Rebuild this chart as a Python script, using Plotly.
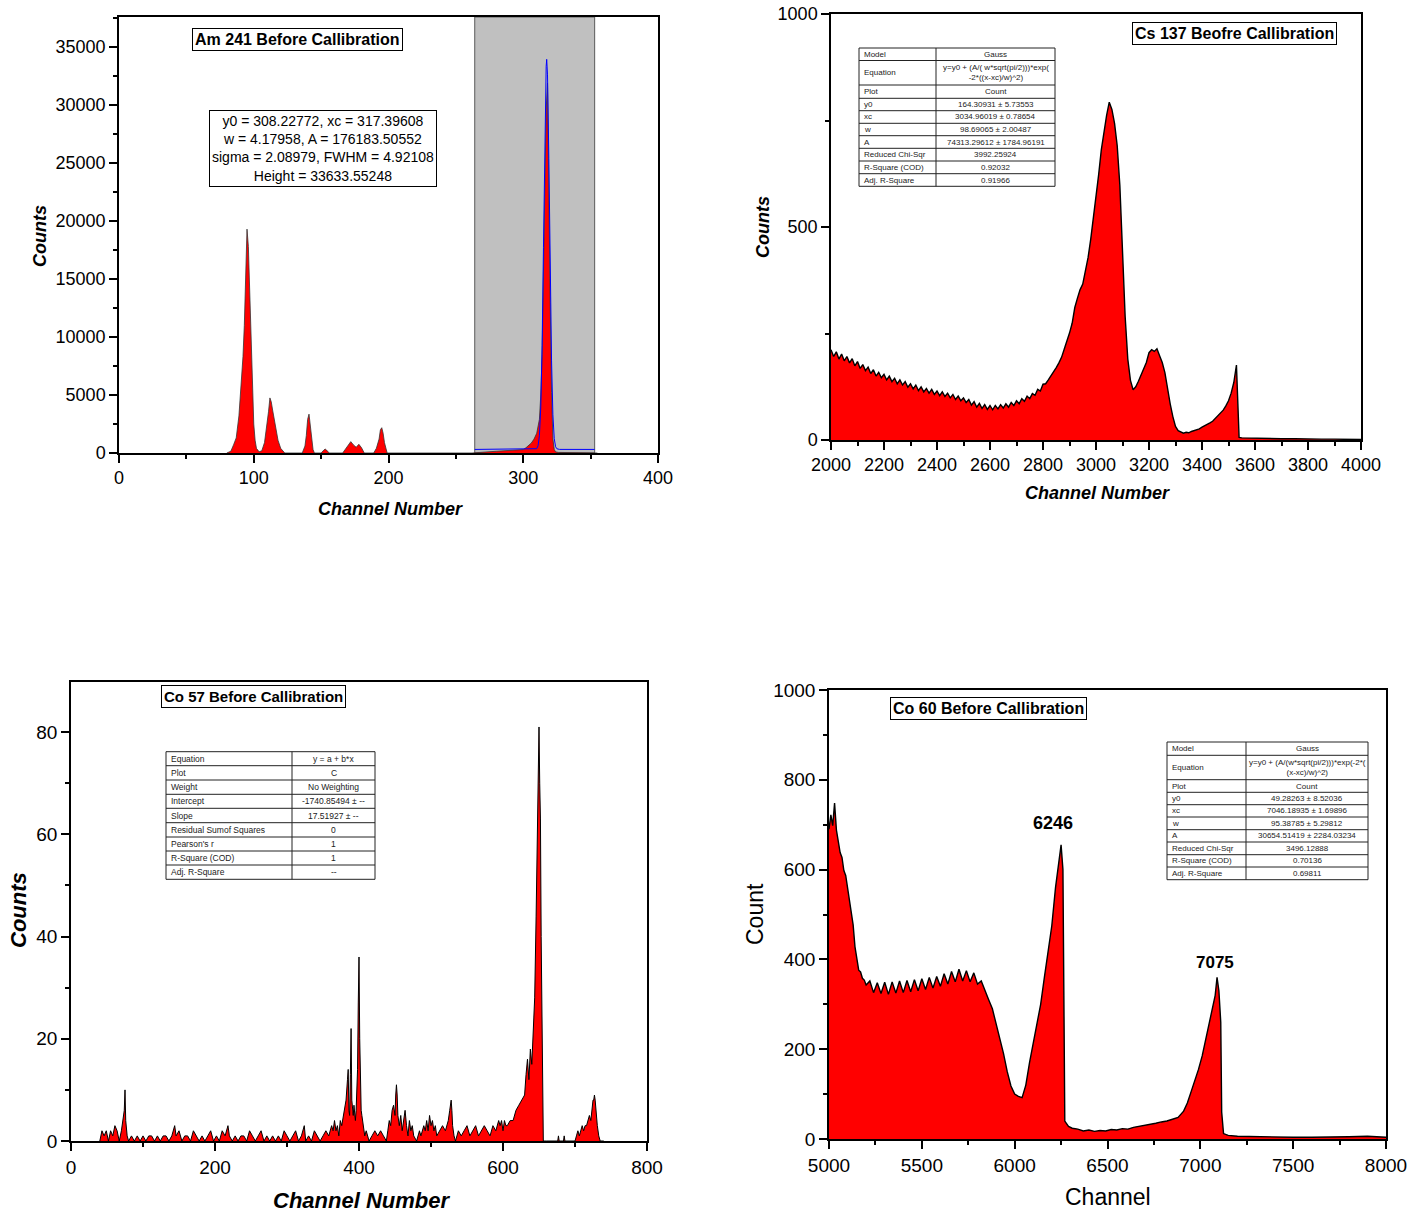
import plotly.graph_objects as go

# ---------------- DATA ----------------
# Am 241 spectrum (channel, counts)
am_ch = [80, 83, 85, 87, 89, 91, 92, 93, 94, 95, 96, 97, 98, 99, 100, 101, 102, 104,
         106, 108, 110, 111, 112, 113, 114, 116, 118, 120, 123,
         136, 138, 139, 140, 141, 142, 143, 144, 145,
         150, 152, 153, 154, 156,
         166, 168, 170, 172, 174, 176, 178, 180, 182,
         189, 191, 193, 194, 195, 196, 197, 199,
         262, 280, 298, 300, 302, 304, 306, 308, 310, 312, 313, 314, 315, 316, 317,
         318, 319, 320, 321, 322, 323, 324, 326, 340, 355]
am_counts = [0, 150, 700, 1300, 3200, 6500, 8300, 11000, 15500, 19300, 17800, 13500, 8800, 5000, 2500, 1100, 400, 100,
             200, 900, 2500, 3600, 4750, 4400, 3700, 2200, 1100, 400, 0,
             0, 600, 1500, 2900, 3350, 2300, 900, 300, 0,
             0, 250, 340, 250, 0,
             0, 300, 650, 980, 700, 490, 750, 450, 0,
             0, 400, 1200, 2000, 2180, 1700, 900, 0,
             0, 150, 250, 300, 450, 650, 860, 1200, 1700, 2900, 5000, 8500, 15200, 24000, 29600,
             31900, 24500, 13000, 5200, 1200, 300, 100, 50, 50, 0]
# Gauss fit curve values
am_fit_ch = [264, 300, 308, 310, 311, 312, 313, 314, 315, 316, 317, 317.4, 318, 319, 320, 321, 322, 323, 324, 325, 327, 353]
am_fit_counts = [308, 308, 312, 372, 620, 1500, 3970, 9260, 17700, 27190, 33340, 33940, 32600, 25400, 15820, 7940,
                 3300, 1240, 540, 360, 310, 308]
am_fit_region = [264, 353]

# Cs 137 spectrum
cs_ch = [2000, 2010, 2020, 2030, 2040, 2050, 2060, 2070, 2080, 2090,
         2100, 2110, 2120, 2130, 2140, 2150, 2160, 2170, 2180, 2190,
         2200, 2210, 2220, 2230, 2240, 2250, 2260, 2270, 2280, 2290,
         2300, 2310, 2320, 2330, 2340, 2350, 2360, 2370, 2380, 2390,
         2400, 2410, 2420, 2430, 2440, 2450, 2460, 2470, 2480, 2490,
         2500, 2510, 2520, 2530, 2540, 2550, 2560, 2570, 2580, 2590,
         2600, 2610, 2620, 2630, 2640, 2650, 2660, 2670, 2680, 2690,
         2700, 2710, 2720, 2730, 2740, 2750, 2760, 2770, 2780, 2790,
         2800, 2810, 2820, 2830, 2840, 2850, 2860, 2870, 2880, 2890,
         2900, 2910, 2920, 2930, 2940, 2950, 2960, 2970, 2980, 2990,
         3000, 3010, 3020, 3030, 3040, 3050, 3060, 3070, 3080, 3090,
         3100, 3110, 3120, 3130, 3140, 3150, 3160, 3170, 3180, 3190,
         3200, 3210, 3220, 3230, 3240, 3250, 3260, 3270, 3280, 3290,
         3300, 3310, 3320, 3330, 3340, 3350, 3360, 3370, 3380, 3390,
         3400, 3410, 3420, 3430, 3440, 3450, 3460, 3470, 3480, 3490,
         3500, 3510, 3520, 3530, 3540,
         3550, 3600, 3650, 3700, 3750, 3800, 3850, 3900, 3950, 4000]
cs_counts = [212, 196, 207, 190, 202, 186, 196, 181, 191, 174,
             184, 168, 177, 163, 171, 156, 165, 150, 159, 146,
             154, 141, 150, 137, 145, 132, 141, 129, 137, 124,
             132, 120, 129, 116, 125, 113, 121, 110, 119, 107,
             115, 104, 113, 102, 110, 99, 107, 95, 103, 92,
             99, 88, 95, 82, 90, 77, 86, 74, 83, 72,
             81, 71, 81, 73, 83, 75, 85, 77, 88, 81,
             92, 85, 97, 91, 103, 97, 109, 105, 119, 115,
             131, 132, 141, 150, 161, 170, 181, 194, 213, 230,
             251, 274, 311, 333, 353, 366, 396, 428, 471, 518,
             576, 623, 681, 728, 762, 793, 776, 743, 691, 598,
             440, 290, 190, 140, 118, 125, 138, 152, 168, 182,
             205, 212, 208, 214, 198, 182, 158, 120, 85, 55,
             32, 22, 18, 16, 18, 17, 20, 22, 24, 26,
             30, 33, 36, 40, 44, 50, 56, 62, 70, 80,
             92, 110, 135, 176, 6,
             5, 4, 4, 3, 3, 2, 2, 2, 2, 1]

# Co 57 spectrum
co57_ch = [40, 43, 46, 49, 52, 55, 58, 61, 64, 67, 70, 72, 74, 75, 76, 78, 80, 84, 88, 92, 96, 100, 104, 108,
           112, 116, 120, 124, 128, 132, 136, 140, 144, 146, 150, 154, 158, 162, 166, 170, 174, 178, 182,
           186, 190, 194, 198, 202, 206, 210, 214, 218, 220, 224, 228, 232, 236, 240, 244, 248, 252, 256,
           260, 264, 268, 272, 276, 280, 284, 288, 292, 296, 300, 304, 308, 312, 316, 320, 324, 326, 330,
           334, 338, 342, 346, 350, 354, 358, 362, 364, 366, 368, 370, 372, 374, 376, 378, 380, 382, 384,
           385, 386, 387, 388, 389, 390, 391, 392, 393, 394, 395, 396, 397, 398, 399, 400, 401, 402, 403,
           404, 406, 408, 410, 414, 418, 422, 426, 430, 434, 438, 440, 442, 444, 446, 448, 450, 451, 452,
           453, 454, 456, 458, 460, 462, 464, 466, 468, 470, 472, 474, 476, 480, 484, 486, 490, 492, 494,
           496, 498, 500, 502, 504, 506, 508, 512, 516, 520, 524, 526, 528, 529, 530, 532, 534, 538, 542,
           546, 550, 554, 558, 562, 566, 570, 574, 578, 582, 586, 590, 594, 596, 598, 600, 602, 604, 606,
           610, 614, 618, 622, 626, 630, 632, 634, 636, 638, 640, 642, 644, 646, 648, 649, 650, 651, 652,
           653, 654, 655, 656, 660, 676, 677, 678, 684, 685, 686, 700, 702, 704, 706, 708, 710, 712, 714,
           716, 718, 720, 722, 724, 725, 726, 727, 728, 729, 730, 731, 733, 735, 740]
co57_counts = [0, 2, 1, 2, 0, 2, 1, 3, 2, 0, 2, 4, 6, 10, 4, 1, 0, 1, 0, 1, 0, 1, 0, 1,
               1, 0, 1, 0, 1, 1, 0, 1, 3, 1, 2, 0, 1, 1, 0, 2, 1, 0, 1,
               0, 1, 2, 0, 1, 0, 2, 1, 3, 1, 0, 1, 0, 1, 1, 0, 2, 1, 0,
               1, 2, 0, 1, 0, 1, 0, 1, 0, 2, 1, 0, 1, 2, 0, 1, 3, 0, 1,
               0, 2, 1, 0, 1, 2, 1, 3, 2, 4, 2, 3, 1, 4, 3, 5, 6, 8, 12,
               14, 6, 5, 13, 22, 8, 6, 5, 7, 5, 4, 6, 10, 14, 27, 36, 20, 12, 6,
               5, 3, 1, 2, 0, 1, 2, 1, 2, 1, 0, 2, 4, 3, 6, 7, 5, 9, 11,
               9, 5, 3, 5, 2, 4, 6, 3, 1, 4, 2, 3, 1, 0, 2, 1, 3, 2, 4,
               2, 5, 3, 4, 2, 3, 1, 2, 3, 2, 4, 6, 8, 6, 3, 1, 0, 2, 1,
               2, 3, 1, 2, 3, 1, 2, 3, 2, 1, 3, 2, 4, 3, 4, 2, 4, 3, 3,
               4, 4, 6, 7, 8, 9, 13, 16, 12, 18, 15, 22, 28, 44, 60, 72, 81, 70, 63,
               40, 22, 8, 0, 0, 0, 1, 0, 0, 1, 0, 0, 1, 2, 1, 2, 3, 2, 3,
               3, 4, 5, 4, 7, 8, 8, 9, 8, 6, 5, 3, 1, 0, 0]

# Co 60 spectrum
co60_ch = [5000, 5010, 5020, 5030, 5040, 5050, 5060, 5070, 5080, 5090, 5100, 5110, 5120, 5130, 5140, 5150,
           5160, 5170, 5180, 5190, 5200,
           5220, 5240, 5260, 5280, 5300, 5320, 5340, 5360, 5380, 5400, 5420, 5440, 5460, 5480, 5500, 5520,
           5540, 5560, 5580, 5600, 5620, 5640, 5660, 5680, 5700, 5720, 5740, 5760, 5780, 5800, 5820, 5840,
           5860, 5880, 5900, 5920, 5940, 5960, 5980, 6000, 6020, 6040, 6060, 6080, 6100, 6120, 6140, 6160,
           6180, 6200, 6220, 6240,
           6250, 6260, 6265, 6270, 6290, 6310, 6340, 6370, 6400, 6430, 6460, 6490, 6520, 6550, 6580, 6610,
           6640, 6670, 6700, 6730, 6760, 6790, 6820, 6850, 6880, 6910, 6930, 6950, 6970, 6990, 7010, 7030,
           7050, 7070, 7080, 7090, 7100, 7110, 7115, 7125, 7150, 7200, 7300, 7400, 7500, 7600, 7700, 7800,
           7900, 8000]
co60_counts = [690, 722, 698, 748, 688, 662, 638, 627, 598, 587, 558, 537, 503, 477, 428, 402,
               376, 372, 358, 354, 343,
               352, 326, 348, 324, 349, 322, 350, 325, 352, 326, 353, 328, 355, 330, 357, 333,
               360, 336, 362, 340, 368, 345, 373, 350, 378, 352, 375, 350, 370, 345, 352, 333,
               310, 290, 258, 225, 190, 150, 118, 100, 95, 92, 120, 170, 215, 255, 300, 360,
               420, 475, 560, 630,
               655, 600, 300, 40, 28, 24, 22, 18, 20, 17, 19, 18, 21, 20, 23, 22,
               26, 28, 30, 33, 35, 38, 40, 44, 48, 62, 80, 105, 128, 155, 185, 225,
               260, 300, 320, 360, 330, 260, 60, 12, 8, 6, 5, 5, 4, 4, 4, 5,
               6, 4]
co60_peak_labels = ["6246", "7075"]
co60_label_x = [6206, 7080]
co60_label_y = [704, 394]

# fit / statistics tables
am_stats = ["y0 = 308.22772, xc = 317.39608", "w = 4.17958, A = 176183.50552",
            "sigma = 2.08979, FWHM = 4.92108", "Height = 33633.55248"]
cs_table_keys = ["Model", "Equation", "Plot", "y0", "xc", "w", "A", "Reduced Chi-Sqr", "R-Square (COD)", "Adj. R-Square"]
cs_table_vals = ["Gauss", "y=y0 + (A/( w*sqrt(pi/2)))*exp(<br>-2*((x-xc)/w)^2)", "Count",
                 "164.30931 ± 5.73553", "3034.96019 ± 0.78654", "98.69065 ± 2.00487",
                 "74313.29612 ± 1784.96191", "3992.25924", "0.92032", "0.91966"]
co57_table_keys = ["Equation", "Plot", "Weight", "Intercept", "Slope", "Residual Sumof Squares",
                   "Pearson's r", "R-Square (COD)", "Adj. R-Square"]
co57_table_vals = ["y = a + b*x", "C", "No Weighting", "-1740.85494 ± --", "17.51927 ± --", "0", "1", "1", "--"]
co60_table_keys = ["Model", "Equation", "Plot", "y0", "xc", "w", "A", "Reduced Chi-Sqr", "R-Square (COD)", "Adj. R-Square"]
co60_table_vals = ["Gauss", "y=y0 + (A/(w*sqrt(pi/2)))*exp(-2*(<br>(x-xc)/w)^2)", "Count",
                   "49.28263 ± 8.52036", "7046.18935 ± 1.69896", "95.38785 ± 5.29812",
                   "30654.51419 ± 2284.03234", "3496.12888", "0.70136", "0.69811"]

# ---------------- FIGURE ----------------
W, H = 1426, 1212
FONT = "Liberation Sans, Arial, sans-serif"


def PX(x):
    return x / W


def PY(y):
    return 1 - y / H


fig = go.Figure()

spec_style = dict(mode="lines", fill="tozeroy", fillcolor="#FF0000", hoverinfo="skip")
fig.add_trace(go.Scatter(x=am_ch, y=am_counts, xaxis="x", yaxis="y",
                         line=dict(color="#333333", width=0.8), **spec_style))
fig.add_trace(go.Scatter(x=am_fit_ch, y=am_fit_counts, xaxis="x", yaxis="y", mode="lines",
                         line=dict(color="#0000FF", width=1), hoverinfo="skip"))
fig.add_trace(go.Scatter(x=cs_ch, y=cs_counts, xaxis="x2", yaxis="y2",
                         line=dict(color="black", width=1.4), **spec_style))
fig.add_trace(go.Scatter(x=co57_ch, y=co57_counts, xaxis="x3", yaxis="y3",
                         line=dict(color="black", width=1), **spec_style))
fig.add_trace(go.Scatter(x=co60_ch, y=co60_counts, xaxis="x4", yaxis="y4",
                         line=dict(color="black", width=1.4), **spec_style))


def axis(domain, rng, dtick, mdtick, fsize, anchor):
    return dict(domain=domain, range=rng, dtick=dtick, tick0=0, anchor=anchor, automargin=False,
                tickformat="d",
                showline=True, linecolor="black", linewidth=1.5, mirror=True,
                ticks="outside", ticklen=8, tickwidth=1.5, tickcolor="black",
                minor=dict(ticks="outside", ticklen=4, dtick=mdtick, tickwidth=1.5, tickcolor="black"),
                showgrid=False, zeroline=False,
                tickfont=dict(family=FONT, size=fsize, color="black"))


fig.update_layout(
    width=W, height=H, margin=dict(l=0, r=0, t=0, b=0, autoexpand=False),
    paper_bgcolor="white", plot_bgcolor="white", showlegend=False,
    xaxis=axis([PX(119), PX(658)], [0, 400], 100, 50, 18, "y"),
    yaxis=axis([PY(453), PY(17)], [0, 37590], 5000, 2500, 18, "x"),
    xaxis2=axis([PX(831), PX(1361)], [2000, 4000], 200, 100, 18, "y2"),
    yaxis2=axis([PY(440), PY(14)], [0, 1000], 500, 250, 18, "x2"),
    xaxis3=axis([PX(71), PX(647)], [0, 800], 200, 100, 19, "y3"),
    yaxis3=axis([PY(1141), PY(682)], [0, 89.8], 20, 10, 19, "x3"),
    xaxis4=axis([PX(829), PX(1386)], [5000, 8000], 500, 250, 19, "y4"),
    yaxis4=axis([PY(1139), PY(690)], [0, 1000], 200, 100, 19, "x4"),
)

shapes = []
annotations = []

# shaded fit region (Am 241)
shapes.append(dict(type="rect", xref="x", yref="y domain", x0=am_fit_region[0], x1=am_fit_region[1],
                   y0=0, y1=1, fillcolor="#C0C0C0", line=dict(color="#5a5a5a", width=1), layer="below"))


def text(x, y, t, size, bold=False, italic=False, angle=0, border=False, pad=2, color="black", align="center"):
    s = t
    if bold:
        s = "<b>" + s + "</b>"
    if italic:
        s = "<i>" + s + "</i>"
    a = dict(xref="paper", yref="paper", x=PX(x), y=PY(y), text=s, showarrow=False,
             xanchor="center", yanchor="middle", textangle=angle, align=align,
             font=dict(family=FONT, size=size, color=color))
    if border:
        a.update(bordercolor="black", borderwidth=1, borderpad=pad, bgcolor="white")
    annotations.append(a)


# axis titles
text(390, 509, "Channel Number", 18, bold=True, italic=True)
text(40, 236, "Counts", 18, bold=True, italic=True, angle=-90)
text(1097, 493, "Channel Number", 18, bold=True, italic=True)
text(763, 227, "Counts", 18, bold=True, italic=True, angle=-90)
text(361, 1200, "Channel Number", 22, bold=True, italic=True)
text(18, 910, "Counts", 22, bold=True, italic=True, angle=-90)
text(1108, 1197, "Channel", 23)
text(755, 914, "Count", 23, angle=-90)

# panel titles
text(297, 39, "Am 241 Before Callibration", 16, bold=True, border=True, pad=2)
text(1234, 34, "Cs 137 Beofre Callibration", 16, bold=True, border=True, pad=2)
text(253, 696, "Co 57 Before Callibration", 15, bold=True, border=True, pad=2)
text(988, 708, "Co 60 Before Callibration", 16, bold=True, border=True, pad=2)

# Am 241 fit statistics box
text(323, 148, "<br>".join(am_stats), 14, border=True, pad=2)

# Co 60 peak labels
for lab, lx, ly, fs in zip(co60_peak_labels, co60_label_x, co60_label_y, [18, 17]):
    annotations.append(dict(xref="x4", yref="y4", x=lx, y=ly, text="<b>" + lab + "</b>", showarrow=False,
                            xanchor="center", yanchor="middle",
                            font=dict(family=FONT, size=fs, color="black")))


def table(x0, xd, x1, bounds, keys, vals, fsize):
    shapes.append(dict(type="rect", xref="paper", yref="paper", x0=PX(x0), x1=PX(x1),
                       y0=PY(bounds[-1]), y1=PY(bounds[0]), fillcolor="white",
                       line=dict(color="#222222", width=1), layer="above"))
    shapes.append(dict(type="line", xref="paper", yref="paper", x0=PX(xd), x1=PX(xd),
                       y0=PY(bounds[-1]), y1=PY(bounds[0]), line=dict(color="#222222", width=1)))
    for b in bounds[1:-1]:
        shapes.append(dict(type="line", xref="paper", yref="paper", x0=PX(x0), x1=PX(x1),
                           y0=PY(b), y1=PY(b), line=dict(color="#222222", width=1)))
    for i, (k, v) in enumerate(zip(keys, vals)):
        yc = (bounds[i] + bounds[i + 1]) / 2
        annotations.append(dict(xref="paper", yref="paper", x=PX(x0 + 3), y=PY(yc), text=k,
                                showarrow=False, xanchor="left", yanchor="middle",
                                font=dict(family=FONT, size=fsize, color="#222222")))
        annotations.append(dict(xref="paper", yref="paper", x=PX((xd + x1) / 2), y=PY(yc), text=v,
                                showarrow=False, xanchor="center", yanchor="middle", align="center",
                                font=dict(family=FONT, size=fsize, color="#222222")))


table(859, 936, 1055, [48, 60.5, 85, 98.3, 110.7, 123.3, 135.7, 148.3, 161, 173.7, 186.3],
      cs_table_keys, cs_table_vals, 8)
table(166, 292, 375, [751.7, 765.7, 780, 794.3, 808.3, 822.7, 837, 851, 865, 879.3],
      co57_table_keys, co57_table_vals, 8.5)
table(1167, 1246, 1368, [742, 755.3, 779.7, 792.3, 804.7, 817, 829.7, 842, 854.7, 867, 879.7],
      co60_table_keys, co60_table_vals, 8)

fig.update_layout(shapes=shapes, annotations=annotations)
fig.write_html("out.html")
